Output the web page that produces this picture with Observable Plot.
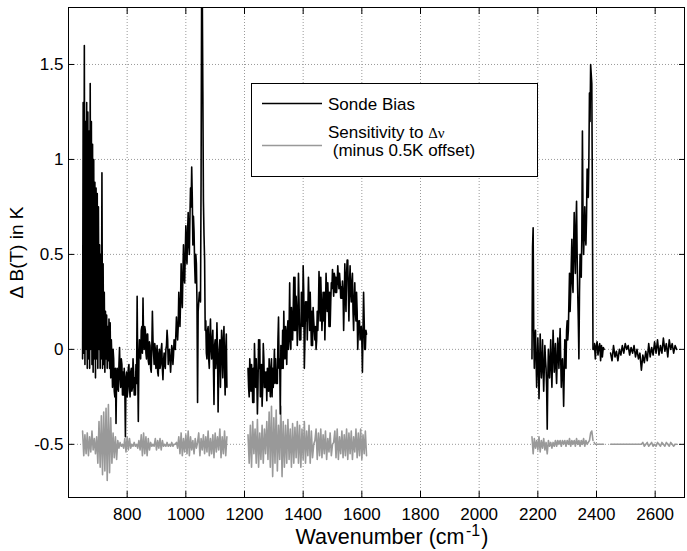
<!DOCTYPE html>
<html><head><meta charset="utf-8">
<script src="https://cdn.jsdelivr.net/npm/d3@7"></script>
<script src="https://cdn.jsdelivr.net/npm/@observablehq/plot@0.6"></script>
<style>
body{margin:0;background:#fff;}
#wrap{position:relative;width:687px;height:551px;}
</style></head><body><div id="wrap"></div>
<script>
// ---- axis ticks ----
const xTicks = [800, 1000, 1200, 1400, 1600, 1800, 2000, 2200, 2400, 2600];
const yTicks = [-0.5, 0, 0.5, 1, 1.5];
const xDomain = [600, 2700];
const yDomain = [-0.78, 1.8];

// ---- Sonde Bias (black); sampling start / step in cm-1 ----
const biasA_start = 648, biasA_step = 2;
const biasA = [
 -0.05,1.3,-0.02,1.6,-0.08,1.2,0.0,1.3,-0.1,1.25,
 -0.05,1.15,-0.1,1.4,0.0,1.2,-0.08,1.08,-0.12,1.0,
 -0.05,0.88,-0.15,0.85,-0.05,0.82,-0.1,0.75,0.0,0.55,
 -0.1,0.5,-0.05,0.93,-0.1,0.45,-0.08,0.3,-0.12,0.2,
 -0.05,0.18,-0.1,0.12,-0.06,0.16,-0.1,0.14,-0.15,0.05,
 -0.05,-0.2,0.0,-0.05,-0.22,-0.25,-0.1,-0.39,-0.15,-0.1,
 -0.2,-0.22,-0.08,0.01,-0.15,-0.2,-0.05,-0.08,-0.24,-0.12,
 -0.24,-0.1,-0.2,-0.46,-0.15,-0.12,-0.25,-0.22,-0.1,-0.08,
 -0.2,-0.25,-0.12,-0.1,-0.22,-0.2,-0.05,-0.12,-0.24,-0.15,
 -0.24,-0.08,-0.18,0.28,-0.1,-0.38,-0.05,0.05,-0.02,-0.05,
 0.1,0.12,-0.02,0.27,0.05,0.0,0.12,0.1,-0.02,-0.05,
 0.08,0.08,-0.06,-0.08,0.04,0.02,-0.1,-0.12,0.0,0.2,
 0.05,-0.02,-0.08,0.03,0.0,-0.1,-0.04,0.02,-0.12,-0.14,
 -0.02,0.0,-0.1,-0.08,0.0,0.03,-0.1,-0.16,-0.06,-0.02,
 -0.08,-0.1,0.0,0.02,0.1,0.05,-0.08,-0.02,0.0,-0.05,
 -0.12,-0.06,0.02,0.0,-0.08,-0.03,0.05,0.02,0.0,0.08,
 0.17,0.1,0.05,0.12,0.3,0.2,0.12,0.25,0.45,0.3,
 0.22,0.4,0.55,0.38,0.35,0.5,0.65,0.5,0.45,0.62,
 0.72,0.55,0.5,0.7,0.85,0.75,0.96,0.8,0.55,0.7,
 0.62,0.45,0.35,0.5,0.45,0.25,-0.28,0.2,0.25,0.3,
 0.3,0.25,0.9,1.95,1.9,1.36,0.78,0.6,0.47,0.1,
 0.15,-0.02,-0.05,0.1,0.12,-0.05,-0.1,0.08,0.16,0.0,
 -0.05,0.05,0.1,-0.08,-0.29,0.02,0.05,-0.1,-0.05,0.14,
 0.0,-0.33,-0.1,0.0,0.05,-0.2,-0.05,0.1,0.0,-0.15,
 0.05,0.12,-0.1,-0.24,0.0,0.08,-0.2];
const biasB_start = 1212, biasB_step = 2;
const biasB = [
 -0.1,-0.2,-0.25,-0.05,-0.12,-0.22,-0.08,-0.15,-0.28,-0.1,
 -0.28,0.03,-0.1,-0.2,-0.05,-0.15,-0.34,-0.2,0.05,-0.1,
 0.05,-0.25,-0.15,-0.08,-0.3,-0.2,0.03,-0.05,-0.2,-0.12,
 -0.2,-0.12,-0.27,-0.1,-0.18,-0.22,-0.05,-0.15,-0.25,-0.1,
 -0.05,-0.25,-0.1,-0.2,-0.12,0.0,-0.18,-0.05,-0.15,-0.18,
 -0.18,0.05,0.17,-0.1,-0.05,-0.34,0.02,-0.05,-0.1,0.1,
 -0.1,0.2,0.0,-0.05,0.12,0.05,-0.08,0.1,0.15,0.0,
 0.1,0.35,0.05,0.0,0.22,0.15,0.05,0.2,0.38,0.1,
 0.38,0.1,0.28,0.2,0.02,0.15,0.4,0.25,0.05,0.1,
 0.05,0.3,0.2,0.12,0.44,0.3,-0.1,0.05,0.25,0.15,
 0.25,0.05,0.2,0.38,0.25,0.1,0.3,0.15,0.02,0.2,
 0.02,0.22,0.15,0.1,0.05,0.12,0.0,0.05,0.2,0.1,
 0.2,0.41,0.3,0.15,0.38,0.25,0.1,0.2,0.3,0.15,
 0.3,0.05,0.2,0.4,0.3,0.2,0.35,0.25,0.12,0.3,
 0.12,0.25,0.35,0.32,0.42,0.35,0.28,0.4,0.38,0.3,
 0.38,0.3,0.35,0.44,0.38,0.32,0.4,0.35,0.27,0.33,
 0.27,0.36,0.3,0.1,0.25,0.45,0.3,0.2,0.4,0.47,
 0.47,0.3,0.15,0.35,0.44,0.3,0.25,0.35,0.4,0.2,
 0.1,0.25,0.35,0.2,0.15,0.3,0.2,0.0,0.1,0.15,
 0.15,0.05,0.1,0.12,0.05,-0.12,0.1,0.3,0.15,0.0,
 0.0,0.1,0.08];
const biasC_start = 2180, biasC_step = 2;
const biasC = [
 -0.05,0.54,0.64,0.1,-0.1,0.05,0.1,-0.05,-0.2,-0.1,
 0.06,-0.05,-0.26,-0.1,0.08,-0.05,-0.15,-0.08,0.05,-0.1,
 -0.22,-0.1,0.02,-0.05,-0.1,-0.2,-0.42,-0.15,0.0,-0.1,
 -0.15,-0.05,0.05,-0.1,-0.2,-0.05,0.1,0.0,-0.12,-0.05,
 0.03,-0.1,-0.18,-0.05,0.06,-0.02,-0.1,0.02,0.11,-0.05,
 -0.2,-0.1,-0.05,-0.15,-0.3,-0.12,0.05,-0.05,-0.1,0.1,
 0.15,0.05,0.1,0.25,0.4,0.2,0.3,0.45,0.58,0.35,
 0.3,0.55,0.72,0.5,0.4,0.65,0.78,0.5,0.3,0.15,
 -0.05,0.3,0.5,0.4,0.38,0.6,1.15,0.7,0.5,0.6,
 0.75,0.6,0.55,0.7,0.95,0.85,0.8,1.0,1.35,1.2,
 1.5,1.45,1.4,0.8,0.0];
const biasD_start = 2390, biasD_step = 3;
const biasD = [0.0,0.03,-0.05,0.02,0.04,-0.03,0.01,0.03,-0.06,0.02,-0.04,0.01,0.0];
const biasE_start = 2448, biasE_step = 5;
const biasE = [-0.02,-0.06,0.02,-0.04,-0.01,-0.06,0.0,-0.03,0.02,-0.02,0.03,0.0,0.02,-0.03,0.01,-0.02,0.02,-0.04,0.0,-0.05,
 -0.02,-0.11,-0.03,-0.07,-0.01,-0.06,0.03,-0.04,0.01,-0.03,0.04,-0.02,0.05,-0.03,0.02,-0.02,0.06,-0.01,0.03,-0.04,
 0.05,0.0,0.03,-0.02,0.02,0.0];

// ---- Sensitivity to Δν (grey, minus 0.5 K offset) ----
const sensA_start = 648, sensA_step = 4;
const sensA = [-0.43,-0.56,-0.45,-0.55,-0.44,-0.56,-0.46,-0.54,-0.43,-0.53,-0.47,-0.55,-0.46,-0.6,-0.38,-0.62,-0.35,-0.66,-0.33,-0.64,
 -0.31,-0.69,-0.29,-0.65,-0.36,-0.6,-0.44,-0.57,-0.46,-0.58,-0.48,-0.52,-0.49,-0.51,-0.5,-0.52,-0.47,-0.54,-0.46,-0.53,
 -0.47,-0.52,-0.5,-0.51,-0.49,-0.51,-0.5,-0.52,-0.48,-0.53,-0.45,-0.56,-0.44,-0.55,-0.46,-0.56,-0.47,-0.53,-0.49,-0.51,
 -0.5,-0.51,-0.47,-0.53,-0.48,-0.52,-0.47,-0.53,-0.48,-0.51,-0.5,-0.51,-0.49,-0.51,-0.5,-0.51,-0.49,-0.51,-0.5,-0.5,
 -0.49,-0.52,-0.46,-0.55,-0.44,-0.56,-0.47,-0.54,-0.45,-0.55,-0.43,-0.56,-0.46,-0.53,-0.48,-0.55,-0.47,-0.52,-0.49,-0.44,
 -0.56,-0.47,-0.53,-0.45,-0.55,-0.46,-0.54,-0.43,-0.56,-0.47,-0.55,-0.45,-0.57,-0.44,-0.54,-0.46,-0.53,-0.42,-0.57,-0.46,
 -0.55,-0.43,-0.56,-0.46];
const sensB_start = 1212, sensB_step = 4;
const sensB = [-0.45,-0.6,-0.4,-0.62,-0.38,-0.55,-0.42,-0.6,-0.37,-0.62,-0.44,-0.58,-0.4,-0.6,-0.42,-0.55,-0.38,-0.58,-0.33,-0.62,
 -0.3,-0.67,-0.36,-0.6,-0.32,-0.64,-0.4,-0.58,-0.3,-0.67,-0.38,-0.62,-0.4,-0.6,-0.37,-0.58,-0.42,-0.62,-0.39,-0.6,
 -0.41,-0.57,-0.38,-0.6,-0.4,-0.62,-0.42,-0.58,-0.38,-0.6,-0.43,-0.56,-0.4,-0.6,-0.43,-0.57,-0.5,-0.48,-0.42,-0.58,
 -0.44,-0.56,-0.42,-0.57,-0.45,-0.55,-0.43,-0.58,-0.47,-0.54,-0.44,-0.56,-0.5,-0.49,-0.43,-0.57,-0.42,-0.58,-0.46,-0.55,
 -0.43,-0.57,-0.45,-0.56,-0.42,-0.58,-0.44,-0.55,-0.43,-0.58,-0.46,-0.54,-0.42,-0.57,-0.44,-0.56,-0.42,-0.58,-0.45,-0.55,
 -0.43,-0.56];
const sensC_start = 2180, sensC_step = 4;
const sensC = [-0.46,-0.55,-0.47,-0.52,-0.48,-0.53,-0.46,-0.54,-0.48,-0.52,-0.47,-0.53,-0.49,-0.55,-0.48,-0.51,-0.49,-0.52,-0.49,-0.51,
 -0.48,-0.51,-0.48,-0.5,-0.48,-0.51,-0.48,-0.5,-0.48,-0.51,-0.48,-0.5,-0.47,-0.51,-0.48,-0.5,-0.48,-0.51,-0.47,-0.5,
 -0.48,-0.51,-0.48,-0.5,-0.47,-0.51,-0.48,-0.5,-0.49,-0.48,-0.44,-0.43,-0.48];
const sensD_start = 2392, sensD_step = 4;
const sensD = [-0.49,-0.5,-0.5,-0.5,-0.5,-0.5,-0.5,-0.5,-0.5];
const sensE_start = 2448, sensE_step = 5;
const sensE = [-0.5,-0.5,-0.5,-0.5,-0.5,-0.5,-0.5,-0.5,-0.5,-0.5,-0.5,-0.5,-0.5,-0.5,-0.5,-0.5,-0.5,-0.5,-0.5,-0.5,
 -0.5,-0.5,-0.49,-0.51,-0.5,-0.49,-0.51,-0.5,-0.49,-0.51,-0.5,-0.51,-0.49,-0.5,-0.51,-0.49,-0.5,-0.51,-0.49,-0.5,
 -0.51,-0.49,-0.5,-0.51,-0.5,-0.5];

const seriesNames = ["Sonde Bias", "Sensitivity to ", "\u0394\u03bd", " (minus 0.5K offset)"];
const xLabel = "Wavenumber (cm", xLabelSup = "-1", xLabelEnd = ")";
const yLabel = "\u0394 B(T) in K";

// ---- build tables ----
function rows(series, seg, start, step, vals) {
  return vals.map((v, i) => ({wn: start + i * step, v, series, seg}));
}
const biasRows = [].concat(
  rows("bias", "A", biasA_start, biasA_step, biasA),
  rows("bias", "B", biasB_start, biasB_step, biasB),
  rows("bias", "C", biasC_start, biasC_step, biasC),
  rows("bias", "D", biasD_start, biasD_step, biasD),
  rows("bias", "E", biasE_start, biasE_step, biasE));
const sensRows = [].concat(
  rows("sens", "A", sensA_start, sensA_step, sensA),
  rows("sens", "B", sensB_start, sensB_step, sensB),
  rows("sens", "C", sensC_start, sensC_step, sensC),
  rows("sens", "D", sensD_start, sensD_step, sensD),
  rows("sens", "E", sensE_start, sensE_step, sensE));

const GRAY = "#999999";
const FONT = "'Liberation Sans', Arial, Helvetica, sans-serif";
const fmt = d => String(d);
const blank = () => "";
const TICK = 6;

const chart = Plot.plot({
  width: 687, height: 551,
  marginLeft: 68, marginRight: 3, marginTop: 7, marginBottom: 54,
  style: {fontFamily: FONT, fontSize: "17px", color: "#000", background: "#fff", overflow: "visible"},
  x: {domain: xDomain},
  y: {domain: yDomain},
  marks: [
    Plot.gridX(xTicks, {stroke: "#9a9a9a", strokeOpacity: 1, strokeDasharray: "1,2"}),
    Plot.gridY(yTicks, {stroke: "#9a9a9a", strokeOpacity: 1, strokeDasharray: "1,2"}),
    Plot.line(sensRows, {x: "wn", y: "v", z: "seg", stroke: GRAY, strokeWidth: 1.6, clip: true}),
    Plot.line(biasRows, {x: "wn", y: "v", z: "seg", stroke: "#000", strokeWidth: 1.6, clip: true}),
    Plot.axisX(xTicks, {anchor: "bottom", tickSize: 0, tickPadding: 10, tickFormat: fmt, label: null, fontSize: 17}),
    Plot.axisX(xTicks, {anchor: "bottom", tickSize: TICK, dy: -TICK, tickFormat: blank, label: null}),
    Plot.axisX(xTicks, {anchor: "top", tickSize: TICK, dy: TICK, tickFormat: blank, label: null}),
    Plot.axisY(yTicks, {anchor: "left", tickSize: 0, tickPadding: 5, tickFormat: fmt, label: null, fontSize: 17}),
    Plot.axisY(yTicks, {anchor: "left", tickSize: TICK, dx: TICK, tickFormat: blank, label: null}),
    Plot.axisY(yTicks, {anchor: "right", tickSize: TICK, dx: -TICK, tickFormat: blank, label: null}),
    Plot.frame({stroke: "#000"}),
    Plot.text([yLabel], {frameAnchor: "left", textAnchor: "middle", rotate: -90, dx: -52, fontSize: 19, fill: "#000"})
  ]
});
document.getElementById("wrap").appendChild(chart);

// ---- x label with superscript ----
const svg = d3.select(chart);
const xl = svg.append("text")
  .attr("x", 392).attr("y", 544)
  .attr("text-anchor", "middle")
  .attr("font-family", FONT).attr("font-size", 21.5).attr("fill", "#000");
xl.append("tspan").text(xLabel);
xl.append("tspan").attr("font-size", 16).attr("dx", 1.5).attr("dy", -8).text(xLabelSup);
xl.append("tspan").attr("dx", 1).attr("dy", 8).text(xLabelEnd);

// ---- legend inside the axes ----
const lg = svg.append("g").attr("font-family", FONT).attr("font-size", 17).attr("fill", "#000").attr("text-anchor", "start");
lg.append("rect").attr("x", 251.5).attr("y", 83.5).attr("width", 286).attr("height", 93)
  .attr("fill", "#fff").attr("stroke", "#000").attr("stroke-width", 1);
lg.append("line").attr("x1", 262).attr("x2", 322).attr("y1", 103.5).attr("y2", 103.5).attr("stroke", "#000").attr("stroke-width", 1.5);
lg.append("line").attr("x1", 262).attr("x2", 322).attr("y1", 145.5).attr("y2", 145.5).attr("stroke", GRAY).attr("stroke-width", 1.5);
lg.append("text").attr("x", 328).attr("y", 109.5).attr("text-anchor", "start").text(seriesNames[0]);
const t2 = lg.append("text").attr("x", 328).attr("y", 137.5).attr("text-anchor", "start");
t2.append("tspan").text(seriesNames[1]);
t2.append("tspan").attr("font-family", "'Liberation Serif', 'DejaVu Serif', serif").attr("font-size", 15).text(seriesNames[2]);
lg.append("text").attr("x", 328).attr("y", 155.5).attr("text-anchor", "start").style("white-space", "pre").text(seriesNames[3]);
</script>
</body></html>
